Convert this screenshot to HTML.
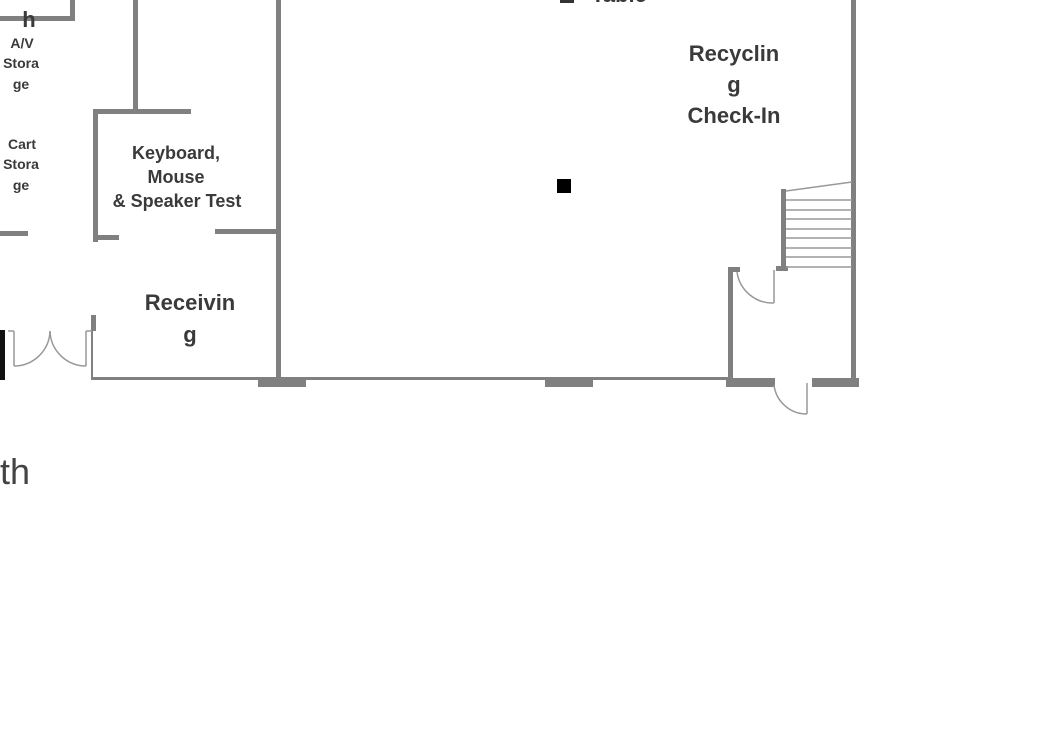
<!DOCTYPE html>
<html><head><meta charset="utf-8"><style>
html,body{margin:0;padding:0;background:#fff;width:1052px;height:744px;overflow:hidden}
svg{display:block}
text{font-family:"Liberation Sans",sans-serif;font-weight:bold;fill:#3a3a3a;text-anchor:middle}
</style></head><body>
<svg width="1052" height="744" viewBox="0 0 1052 744" xmlns="http://www.w3.org/2000/svg">
<g fill="#808080">
<!-- top-left box -->
<rect x="0" y="16" width="75" height="5"/>
<rect x="70" y="0" width="5" height="21"/>
<!-- keyboard room -->
<rect x="133" y="0" width="5" height="112"/>
<rect x="93" y="109" width="98" height="5"/>
<rect x="93" y="109" width="5" height="133"/>
<rect x="93" y="235" width="26" height="5"/>
<rect x="215" y="229" width="64" height="5"/>
<rect x="276" y="0" width="5" height="382"/>
<rect x="0" y="231" width="28" height="5"/>
<!-- bottom left -->
<rect x="91" y="315" width="5" height="16"/>
<rect x="91" y="330" width="2" height="50"/>
<rect x="91" y="377" width="640" height="3"/>
<rect x="258" y="378" width="48" height="9"/>
<rect x="545" y="378" width="48" height="9"/>
<rect x="726" y="378" width="49" height="9"/>
<rect x="812" y="378" width="47" height="9"/>
<!-- right walls -->
<rect x="851" y="0" width="5" height="384"/>
<rect x="728" y="267" width="5" height="114"/>
<rect x="728" y="267" width="12" height="5"/>
<rect x="781" y="189" width="5" height="82"/>
<rect x="776" y="266" width="12" height="5"/>
</g>
<rect x="0" y="330" width="5" height="50" fill="#111"/>
<rect x="557" y="179" width="14" height="14" fill="#000"/>
<rect x="560" y="0" width="14" height="3" fill="#333"/>
<g stroke="#999" stroke-width="1.5" fill="none">
<!-- stairs -->
<line x1="786" y1="191" x2="852" y2="182"/>
<line x1="786" y1="200" x2="852" y2="200"/>
<line x1="786" y1="210" x2="852" y2="210"/>
<line x1="786" y1="219" x2="852" y2="219"/>
<line x1="786" y1="229" x2="852" y2="229"/>
<line x1="786" y1="238" x2="852" y2="238"/>
<line x1="786" y1="248" x2="852" y2="248"/>
<line x1="786" y1="257" x2="852" y2="257"/>
<line x1="786" y1="267" x2="852" y2="267"/>
<!-- doors -->
<line x1="774" y1="270" x2="774" y2="303"/>
<path d="M737 272 A36 36 0 0 0 774 303"/>
<line x1="807" y1="383" x2="807" y2="414"/>
<path d="M774 385 A33 33 0 0 0 807 414"/>
<line x1="14" y1="331" x2="14" y2="366"/>
<line x1="8" y1="331" x2="14" y2="331"/>
<path d="M14 366 A36 36 0 0 0 50 331"/>
<line x1="86" y1="331" x2="86" y2="366"/>
<line x1="86" y1="331" x2="92" y2="331"/>
<path d="M86 366 A36 36 0 0 1 50 331"/>
</g>
<text x="29" y="27" font-size="22">h</text>
<text x="22" y="48" font-size="14">A/V</text>
<text x="21" y="68" font-size="14">Stora</text>
<text x="21" y="89" font-size="14">ge</text>
<text x="22" y="149" font-size="14">Cart</text>
<text x="21" y="169" font-size="14">Stora</text>
<text x="21" y="190" font-size="14">ge</text>
<text x="176" y="159" font-size="18">Keyboard,</text>
<text x="176" y="183" font-size="18">Mouse</text>
<text x="177" y="207" font-size="18">&amp; Speaker Test</text>
<text x="190" y="310" font-size="22">Receivin</text>
<text x="190" y="342" font-size="22">g</text>
<text x="734" y="61" font-size="22">Recyclin</text>
<text x="734" y="92" font-size="22">g</text>
<text x="734" y="123" font-size="22">Check-In</text>
<text x="619" y="2" font-size="22">Table</text>
<text x="0" y="484" font-size="36" style="text-anchor:start;font-weight:normal;fill:#444">th</text>
</svg>
</body></html>
